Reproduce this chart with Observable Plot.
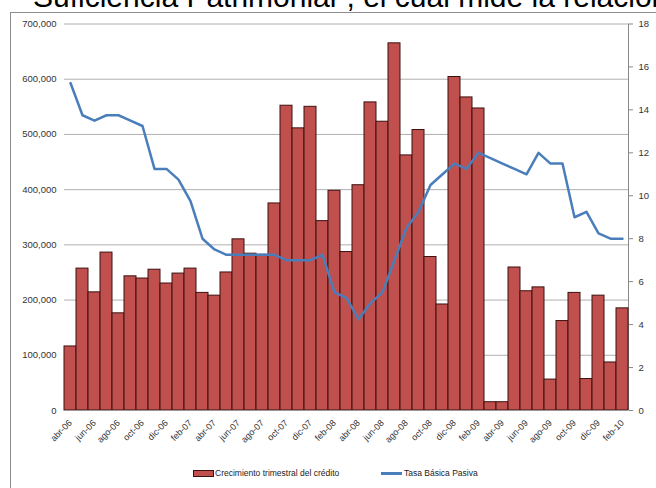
<!DOCTYPE html>
<html>
<head>
<meta charset="utf-8">
<script src="https://cdn.jsdelivr.net/npm/d3@7"></script>
<script src="https://cdn.jsdelivr.net/npm/@observablehq/plot@0.6"></script>
<style>
  html, body { margin: 0; padding: 0; background: #fff; }
  #wrap { position: relative; width: 656px; height: 488px; overflow: hidden; background: #fff; font-family: "Liberation Sans", Arial, sans-serif; }
  #frame { position: absolute; left: 10px; top: 12px; width: 700px; height: 520px; border-left: 1px solid #8c8c8c; border-top: 1px solid #8c8c8c; }
  #doc { position: absolute; left: 33px; top: -17.9px; font-size: 30px; line-height: 30px; white-space: nowrap; color: #000; }
  #chart { position: absolute; left: 0; top: 0; }
  .sw-bar { position: absolute; left: 193px; top: 470px; width: 19px; height: 5px; background: #c0504d; border: 1px solid #3c1110; }
  .sw-line { position: absolute; left: 381px; top: 472px; width: 21px; height: 2.5px; background: #4a7ebb; }
  .lt { position: absolute; white-space: nowrap; top: 468px; }
</style>
</head>
<body>
<div id="wrap">
  <div id="frame"></div>
  <div id="chart"></div>
  <div id="doc">Suficiencia Patrimonial”, el cual mide la relación</div>
  <div class="sw-bar"></div>
  <div class="lt" style="left:215px;font-size:8.5px;color:#222;">Crecimiento trimestral del crédito</div>
  <div class="sw-line"></div>
  <div class="lt" style="left:404px;font-size:8.5px;color:#222;">Tasa Básica Pasiva</div>
</div>
<script>
const months = ["abr-06","may-06","jun-06","jul-06","ago-06","sep-06","oct-06","nov-06","dic-06",
  "ene-07","feb-07","mar-07","abr-07","may-07","jun-07","jul-07","ago-07","sep-07","oct-07","nov-07","dic-07",
  "ene-08","feb-08","mar-08","abr-08","may-08","jun-08","jul-08","ago-08","sep-08","oct-08","nov-08","dic-08",
  "ene-09","feb-09","mar-09","abr-09","may-09","jun-09","jul-09","ago-09","sep-09","oct-09","nov-09","dic-09",
  "ene-10","feb-10"];
const credito = [116000,257000,214000,286000,176000,243000,239000,255000,230000,248000,
  257000,213000,208000,250000,310000,284000,282000,375000,552000,511000,
  550000,343000,398000,287000,408000,558000,523000,665000,462000,508000,
  278000,192000,604000,567000,547000,15000,15000,259000,216000,223000,
  56000,162000,213000,57000,208000,87000,185000];
const tasa = [15.25,13.75,13.5,13.75,13.75,13.5,13.25,11.25,11.25,10.75,
  9.75,8,7.5,7.25,7.25,7.25,7.25,7.25,7,7,
  7,7.25,5.5,5.25,4.25,5,5.5,7,8.5,9.25,
  10.5,11,11.5,11.25,12,11.75,11.5,11.25,11,12,
  11.5,11.5,9,9.25,8.25,8,8];
const leftTicks = [0,100000,200000,300000,400000,500000,600000,700000];
const rightTicks = [0,2,4,6,8,10,12,14,16,18];
const xLabels = months.filter((d, i) => i % 2 === 0);

const yMax = 700000, rMax = 18, k = yMax / rMax;
const table = months.map((m, i) => ({month: m, credito: credito[i], tasa: tasa[i] * k}));

const chart = Plot.plot({
  width: 656, height: 460,
  marginLeft: 64, marginRight: 28, marginTop: 23.5, marginBottom: 50,
  style: {fontFamily: "'Liberation Sans', Arial, sans-serif", fontSize: "9.5px", color: "#333", background: "transparent", overflow: "visible"},
  x: {type: "band", domain: months, padding: 0, label: null},
  y: {domain: [0, yMax], label: null},
  marks: [
    Plot.gridY(leftTicks.slice(1), {stroke: "#b0b0b0", strokeOpacity: 1}),
    Plot.axisY(leftTicks, {tickSize: 0, tickPadding: 8, tickFormat: d3.format(","), label: null}),
    Plot.axisY(rightTicks.map(v => v * k), {anchor: "right", tickSize: 4, tickPadding: 6, stroke: "#888", tickFormat: d => String(Math.round(d / k)), label: null}),
    Plot.ruleX([months[months.length - 1]], {dx: 6, stroke: "#888"}),
    Plot.barY(table, {x: "month", y: "credito", fill: "#c0504d", stroke: "#3c1110", strokeWidth: 1}),
    Plot.ruleY([0], {stroke: "#999", strokeWidth: 1.2}),
    Plot.lineY(table, {x: "month", y: "tasa", stroke: "#4a7ebb", strokeWidth: 2.5}),
    Plot.axisX(xLabels, {tickSize: 0, tickRotate: -45, tickPadding: 11, label: null, fontSize: 9})
  ]
});
document.getElementById("chart").appendChild(chart);
</script>
</body>
</html>
